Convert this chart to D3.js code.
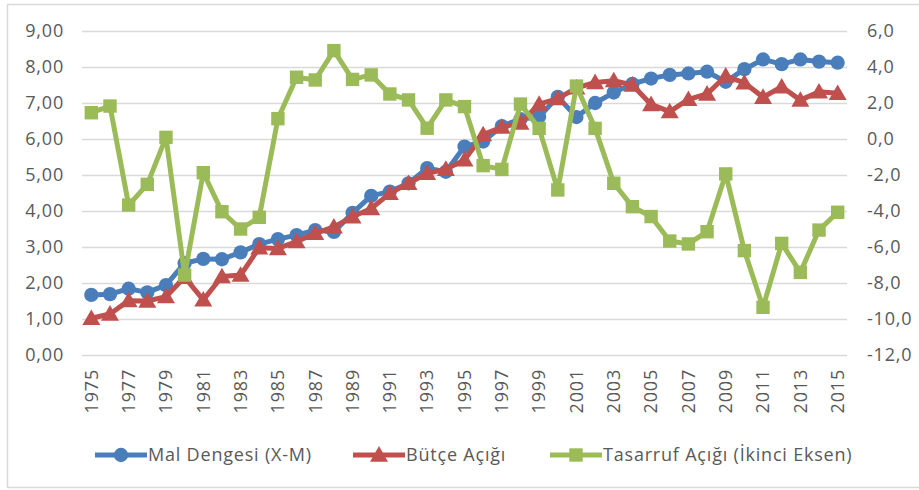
<!DOCTYPE html>
<html>
<head>
<meta charset="utf-8">
<script src="https://cdn.jsdelivr.net/npm/d3@7"></script>
<style>
  html, body { margin: 0; padding: 0; background: #fff; }
  svg text { font-family: "Open Sans", sans-serif; fill: #595959; letter-spacing: 0.8px; }
</style>
</head>
<body>
<svg id="chart" width="919" height="490"></svg>
<script>
const years = d3.range(1975, 2016);

// Mal Dengesi (X-M), left axis
const malDengesi = [1.67, 1.69, 1.84, 1.74, 1.94, 2.55, 2.67, 2.66, 2.85, 3.08, 3.22,
  3.33, 3.47, 3.42, 3.95, 4.42, 4.54, 4.77, 5.19, 5.09, 5.79,
  5.93, 6.36, 6.55, 6.62, 7.17, 6.61, 7.0, 7.29, 7.53, 7.68,
  7.78, 7.82, 7.87, 7.59, 7.94, 8.21, 8.08, 8.21, 8.15, 8.12];

// Bütçe Açığı, left axis
const butceAcigi = [1.02, 1.14, 1.51, 1.5, 1.62, 2.16, 1.53, 2.18, 2.22, 2.98, 2.96,
  3.15, 3.38, 3.56, 3.84, 4.07, 4.49, 4.77, 5.05, 5.16, 5.42,
  6.12, 6.33, 6.44, 6.97, 7.12, 7.42, 7.57, 7.62, 7.5, 6.96,
  6.76, 7.1, 7.25, 7.75, 7.56, 7.16, 7.45, 7.08, 7.31, 7.27];

// Tasarruf Açığı, right axis
const tasarrufAcigi = [1.46, 1.83, -3.67, -2.52, 0.09, -7.56, -1.87, -4.04, -5.0, -4.35, 1.13,
  3.43, 3.28, 4.91, 3.31, 3.56, 2.5, 2.17, 0.6, 2.17, 1.8,
  -1.48, -1.69, 1.94, 0.59, -2.83, 2.94, 0.59, -2.46, -3.76, -4.31,
  -5.67, -5.83, -5.15, -1.94, -6.2, -9.35, -5.8, -7.41, -5.06, -4.07];

const leftTicks = d3.range(0, 10, 1);
const rightTicks = d3.range(-12, 8, 2);
const labelYears = years.filter(y => y % 2 === 1);

const series = [
  { name: 'Mal Dengesi (X-M)', values: malDengesi, color: '#4a7ebb', marker: 'circle', axis: 'left' },
  { name: 'Bütçe Açığı', values: butceAcigi, color: '#c0504d', marker: 'triangle', axis: 'left' },
  { name: 'Tasarruf Açığı (İkinci Eksen)', values: tasarrufAcigi, color: '#9bbb59', marker: 'square', axis: 'right' }
];

const locale = d3.formatLocale({ decimal: ',', thousands: '.', grouping: [3], currency: ['', ''], minus: '-' });
const fmtLeft = locale.format('.2f');
const fmtRight = locale.format('.1f');

const margin = { top: 31, right: 72, bottom: 135, left: 82 };
const width = 919 - margin.left - margin.right;
const height = 490 - margin.top - margin.bottom;
const fontSize = 18;

const svg = d3.select('#chart');

svg.append('rect')
  .attr('x', 7.5).attr('y', 4.5)
  .attr('width', 930).attr('height', 483)
  .attr('fill', 'none').attr('stroke', '#d9d9d9').attr('stroke-width', 1.5);

const g = svg.append('g').attr('transform', `translate(${margin.left},${margin.top})`);

const x = d3.scaleBand().domain(years).range([0, width]);
const yL = d3.scaleLinear().domain([0, 9]).range([height, 0]);
const yR = d3.scaleLinear().domain([-12, 6]).range([height, 0]);
const cx = d => x(d) + x.bandwidth() / 2;

function styleText(sel) {
  sel.attr('font-size', fontSize)
    .style('font-family', '"Open Sans", sans-serif')
    .attr('fill', '#595959');
}

// gridlines + left labels
const leftAxis = g.append('g')
  .call(d3.axisLeft(yL).tickValues(leftTicks).tickFormat(fmtLeft).tickSize(-width).tickPadding(18));
leftAxis.select('.domain').remove();
leftAxis.selectAll('line').attr('stroke', '#d9d9d9').attr('stroke-width', 1.5);
leftAxis.selectAll('text').call(styleText);

const rightAxis = g.append('g')
  .attr('transform', `translate(${width},0)`)
  .call(d3.axisRight(yR).tickValues(rightTicks).tickFormat(fmtRight).tickSize(0).tickPadding(20));
rightAxis.select('.domain').remove();
rightAxis.selectAll('text').call(styleText);

const bottomAxis = g.append('g')
  .attr('transform', `translate(0,${height})`)
  .call(d3.axisBottom(x).tickValues(labelYears).tickSize(0));
bottomAxis.select('.domain').remove();
bottomAxis.selectAll('text')
  .call(styleText)
  .attr('text-anchor', 'end')
  .attr('dy', '0.35em')
  .attr('transform', 'translate(0,14) rotate(-90)')
  .attr('y', 0).attr('x', 0);

const symbolFor = m => m === 'circle'
  ? d3.symbol().type(d3.symbolCircle).size(160)
  : m === 'triangle'
    ? d3.symbol().type(d3.symbolTriangle).size(140)
    : d3.symbol().type(d3.symbolSquare).size(180);

series.forEach(s => {
  const yS = s.axis === 'left' ? yL : yR;
  const line = d3.line().x((d, i) => cx(years[i])).y(d => yS(d));
  const sg = g.append('g');
  sg.append('path')
    .datum(s.values)
    .attr('d', line)
    .attr('fill', 'none')
    .attr('stroke', s.color)
    .attr('stroke-width', 5)
    .attr('stroke-linejoin', 'round');
  sg.selectAll('path.pt')
    .data(s.values)
    .enter()
    .append('path')
    .attr('class', 'pt')
    .attr('d', symbolFor(s.marker)())
    .attr('transform', (d, i) => `translate(${cx(years[i])},${yS(d) + (s.marker === 'triangle' ? 1.5 : 0)})`)
    .attr('fill', s.color);
});

// legend
const legendX = [95, 353, 550];
const legend = svg.append('g').attr('transform', 'translate(0,455)');
series.forEach((s, i) => {
  const lg = legend.append('g').attr('transform', `translate(${legendX[i]},0)`);
  lg.append('line').attr('x1', 0).attr('x2', 52).attr('y1', 0).attr('y2', 0)
    .attr('stroke', s.color).attr('stroke-width', 5);
  lg.append('path').attr('d', symbolFor(s.marker)())
    .attr('transform', `translate(26,${s.marker === 'triangle' ? 1.5 : 0})`).attr('fill', s.color);
  lg.append('text').attr('x', 53).attr('y', 0).attr('dy', '0.35em')
    .attr('font-size', fontSize).text(s.name);
});
</script>
</body>
</html>
